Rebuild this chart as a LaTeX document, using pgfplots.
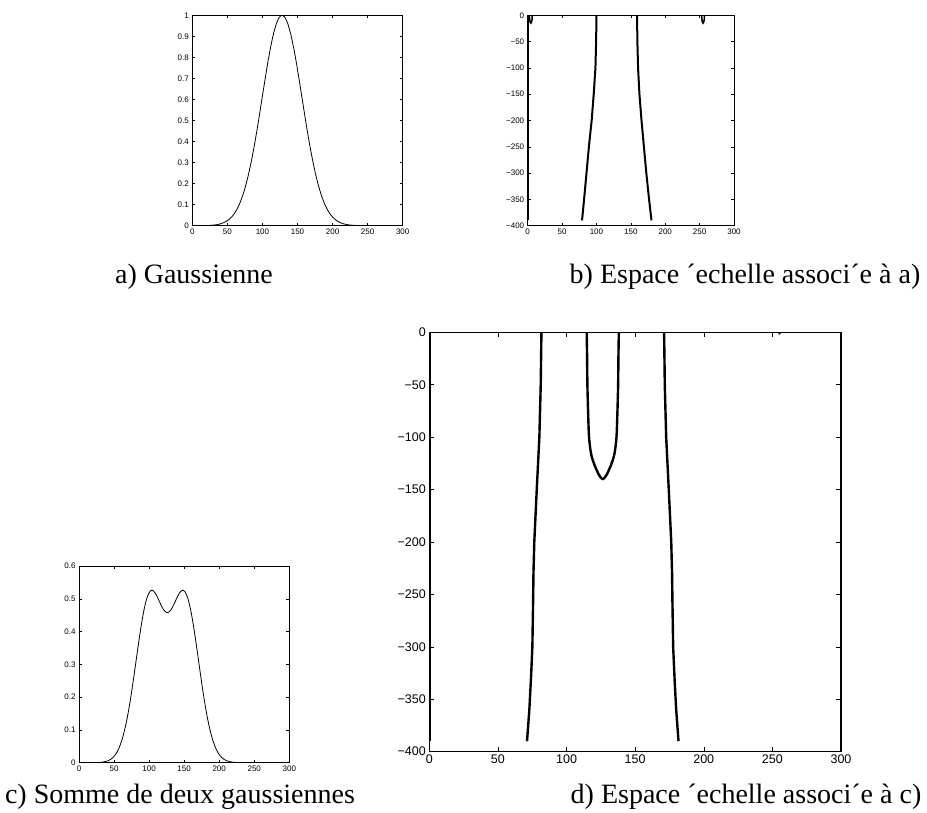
\documentclass[border=0pt]{standalone}
\usepackage{fontspec}
\setmainfont{Liberation Serif}
\setsansfont{Liberation Sans}
\usepackage{pgfplots}
\pgfplotsset{compat=1.18}

\pgfplotsset{
  matlab/.style={
    scale only axis,
    anchor=south west,
    xmin=0, xmax=300,
    xtick={0,50,100,150,200,250,300},
    tick align=inside,
    axis line style={line width=0.9pt},
    every tick/.style={black, line width=0.5pt},
    tick label style={font=\sffamily\fontsize{8}{8}\selectfont,
      /pgf/number format/assume math mode=true},
    major tick length=3pt,
  },
  thin curve/.style={black, line width=0.8pt, smooth},
  scale curve/.style={black, line width=2pt},
}

\begin{document}
\begin{tikzpicture}[x=1pt,y=1pt]
\path[use as bounding box] (0,0) rectangle (927,813);

% a) Gaussienne
\begin{axis}[matlab, at={(192.3pt,587.3pt)}, width=210.4pt, height=210.4pt,
  ymin=0, ymax=1, ytick={0,0.1,0.2,0.3,0.4,0.5,0.6,0.7,0.8,0.9,1}]
\addplot[thin curve] coordinates {
(0,0) (16,0.0004) (24,0.0013) (32,0.0034) (40,0.0085) (48,0.0195) (52,0.0286)
(56,0.0411) (60,0.0580) (64,0.0803) (68,0.109) (72,0.145) (76,0.189) (80,0.242)
(84,0.304) (88,0.373) (92,0.450) (96,0.532) (100,0.617) (104,0.701) (108,0.782)
(112,0.854) (116,0.915) (120,0.961) (124,0.990) (128,1) (132,0.990) (136,0.961)
(140,0.915) (144,0.854) (148,0.782) (152,0.701) (156,0.617) (160,0.532) (164,0.450)
(168,0.373) (172,0.304) (176,0.242) (180,0.189) (184,0.145) (188,0.109) (192,0.0803)
(196,0.0580) (200,0.0411) (204,0.0286) (208,0.0195) (216,0.0085) (224,0.0034)
(232,0.0013) (240,0.0004) (256,0) (300,0)};
\end{axis}

% b) Espace echelle associe a a)
\begin{axis}[matlab, at={(527.7pt,587.3pt)}, width=206.3pt, height=210.4pt,
  ymin=-400, ymax=0, ytick={-400,-350,-300,-250,-200,-150,-100,-50,0},
  yticklabels={−400,−350,−300,−250,−200,−150,−100,−50,0}]
\addplot[scale curve] coordinates {(0.7,0) (0.7,-390)};
\addplot[scale curve] coordinates {(100,0) (99.5,-50) (98.5,-100) (96,-150) (93,-200) (89,-250) (85.5,-300) (82,-350) (79,-390)};
\addplot[scale curve] coordinates {(159,0) (159.5,-50) (160.5,-100) (162.5,-150) (165.5,-200) (169,-250) (172.5,-300) (176.5,-350) (180,-390)};
\addplot[scale curve, line width=1.5pt] coordinates {(2.5,0) (2.8,-8) (3.6,-13) (4.6,-15) (5.6,-13) (6.3,-8) (6.6,0)};
\addplot[scale curve, line width=1.5pt] coordinates {(253,0) (253.3,-8) (254,-13) (255,-15) (256,-13) (256.7,-8) (257,0)};
\end{axis}

% c) Somme de deux gaussiennes
\begin{axis}[matlab, at={(79pt,50.3pt)}, width=210.3pt, height=196.7pt,
  ymin=0, ymax=0.6, ytick={0,0.1,0.2,0.3,0.4,0.5,0.6}]
\addplot[thin curve] coordinates {
(0,0) (25,0.0004) (33,0.0015) (41,0.0056) (45,0.0099) (49,0.0170) (53,0.0281)
(57,0.0445) (61,0.0677) (65,0.0990) (69,0.1390) (73,0.1879) (77,0.2440) (81,0.3044)
(85,0.3652) (89,0.4218) (93,0.4690) (97,0.5032) (101,0.5220) (103,0.5256) (105,0.5256)
(109,0.5167) (113,0.4999) (117,0.4809) (121,0.4656) (125,0.4582) (127,0.4582)
(131,0.4656) (135,0.4809) (139,0.4999) (143,0.5167) (147,0.5256) (149,0.5256)
(151,0.5220) (155,0.5032) (159,0.4690) (163,0.4218) (167,0.3652) (171,0.3044)
(175,0.2440) (179,0.1879) (183,0.1390) (187,0.0990) (191,0.0677) (195,0.0445)
(199,0.0281) (203,0.0170) (207,0.0099) (211,0.0056) (219,0.0015) (227,0.0004)
(251,0) (300,0)};
\end{axis}

% d) Espace echelle associe a c)
\begin{axis}[matlab, at={(429.3pt,61.3pt)}, width=411.7pt, height=419.4pt,
  ymin=-400, ymax=0, ytick={-400,-350,-300,-250,-200,-150,-100,-50,0},
  yticklabels={−400,−350,−300,−250,−200,−150,−100,−50,0},
  axis line style={line width=1.2pt},
  tick label style={font=\sffamily\fontsize{12.5}{12.5}\selectfont},
  major tick length=5pt]
\addplot[scale curve, line width=2.4pt] coordinates {(0.6,0) (0.6,-390)};
\addplot[scale curve, line width=2.4pt] coordinates {(81.7,0) (81.2,-50) (80.2,-100) (78.3,-150) (76.5,-200) (75.9,-230) (75.6,-260) (75.1,-300) (74.1,-330) (72.9,-360) (71.2,-390)};
\addplot[scale curve, line width=2.4pt] coordinates {(171.1,0) (171.6,-50) (172.6,-100) (174.5,-150) (176.3,-200) (176.9,-230) (177.2,-260) (177.7,-300) (178.7,-330) (179.9,-360) (181.6,-390)};
\addplot[scale curve, line width=2.4pt, smooth] coordinates {(114.7,0) (115.0,-25) (115.2,-50) (115.7,-75) (116.4,-100) (117.9,-116) (120.1,-125.6) (121.5,-130) (123.2,-135) (124.6,-138) (126.4,-140) (128.2,-138) (129.6,-135) (131.3,-130) (132.7,-125.6) (134.9,-116) (136.4,-100) (137.1,-75) (137.6,-50) (137.8,-25) (138.1,0)};
\addplot[scale curve, line width=2pt] coordinates {(255,0) (255.3,-2)};
\end{axis}

\node[font=\fontsize{28}{28}\selectfont] at (194,536) {a) Gaussienne};
\node[font=\fontsize{28}{28}\selectfont] at (745,536) {b) Espace ´echelle associ´e à a)};
\node[font=\fontsize{28}{28}\selectfont] at (180,16) {c) Somme de deux gaussiennes};
\node[font=\fontsize{28}{28}\selectfont] at (746,16) {d) Espace ´echelle associ´e à c)};
\end{tikzpicture}
\end{document}
